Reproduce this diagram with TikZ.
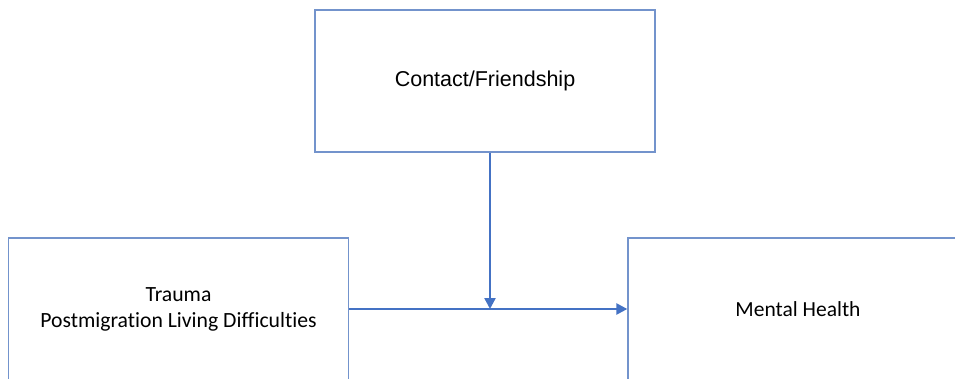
\documentclass[tikz,border=0pt]{standalone}
\usepackage{fontspec}
\setmainfont[Ligatures={NoCommon}]{Carlito}
\newfontfamily\arialfont{Liberation Sans}
\usetikzlibrary{arrows.meta}
\definecolor{boxline}{HTML}{7393CC}
\definecolor{arrowblue}{HTML}{4472C4}
\tikzset{
  boxnode/.style={draw=boxline, line width=1.3pt, rectangle, inner sep=0pt,
    minimum width=340pt, minimum height=142pt, align=center, text=black},
  conn/.style={draw=arrowblue, line width=2.4pt,
    -{Triangle[length=11pt,width=11pt]}}
}
\begin{document}
\begin{tikzpicture}[x=1pt,y=-1pt]
\useasboundingbox (0,0) rectangle (955,380);
\clip (0,0) rectangle (955,378.5);
\node[boxnode, font=\arialfont\fontsize{21.5}{26}\selectfont] (top) at (485,81) {Contact/Friendship};
\node[boxnode, font=\fontsize{21.7}{26}\selectfont] (left) at (178.5,309) {Trauma\\Postmigration Living Difficulties};
\node[boxnode, font=\fontsize{21.5}{26}\selectfont] (right) at (798,309) {Mental Health};
\coordinate (mid) at (490,309);
\draw[conn] (left.east |- mid) -- (right.west |- mid);
\draw[conn] (top.south -| mid) -- (mid);
\end{tikzpicture}
\end{document}
